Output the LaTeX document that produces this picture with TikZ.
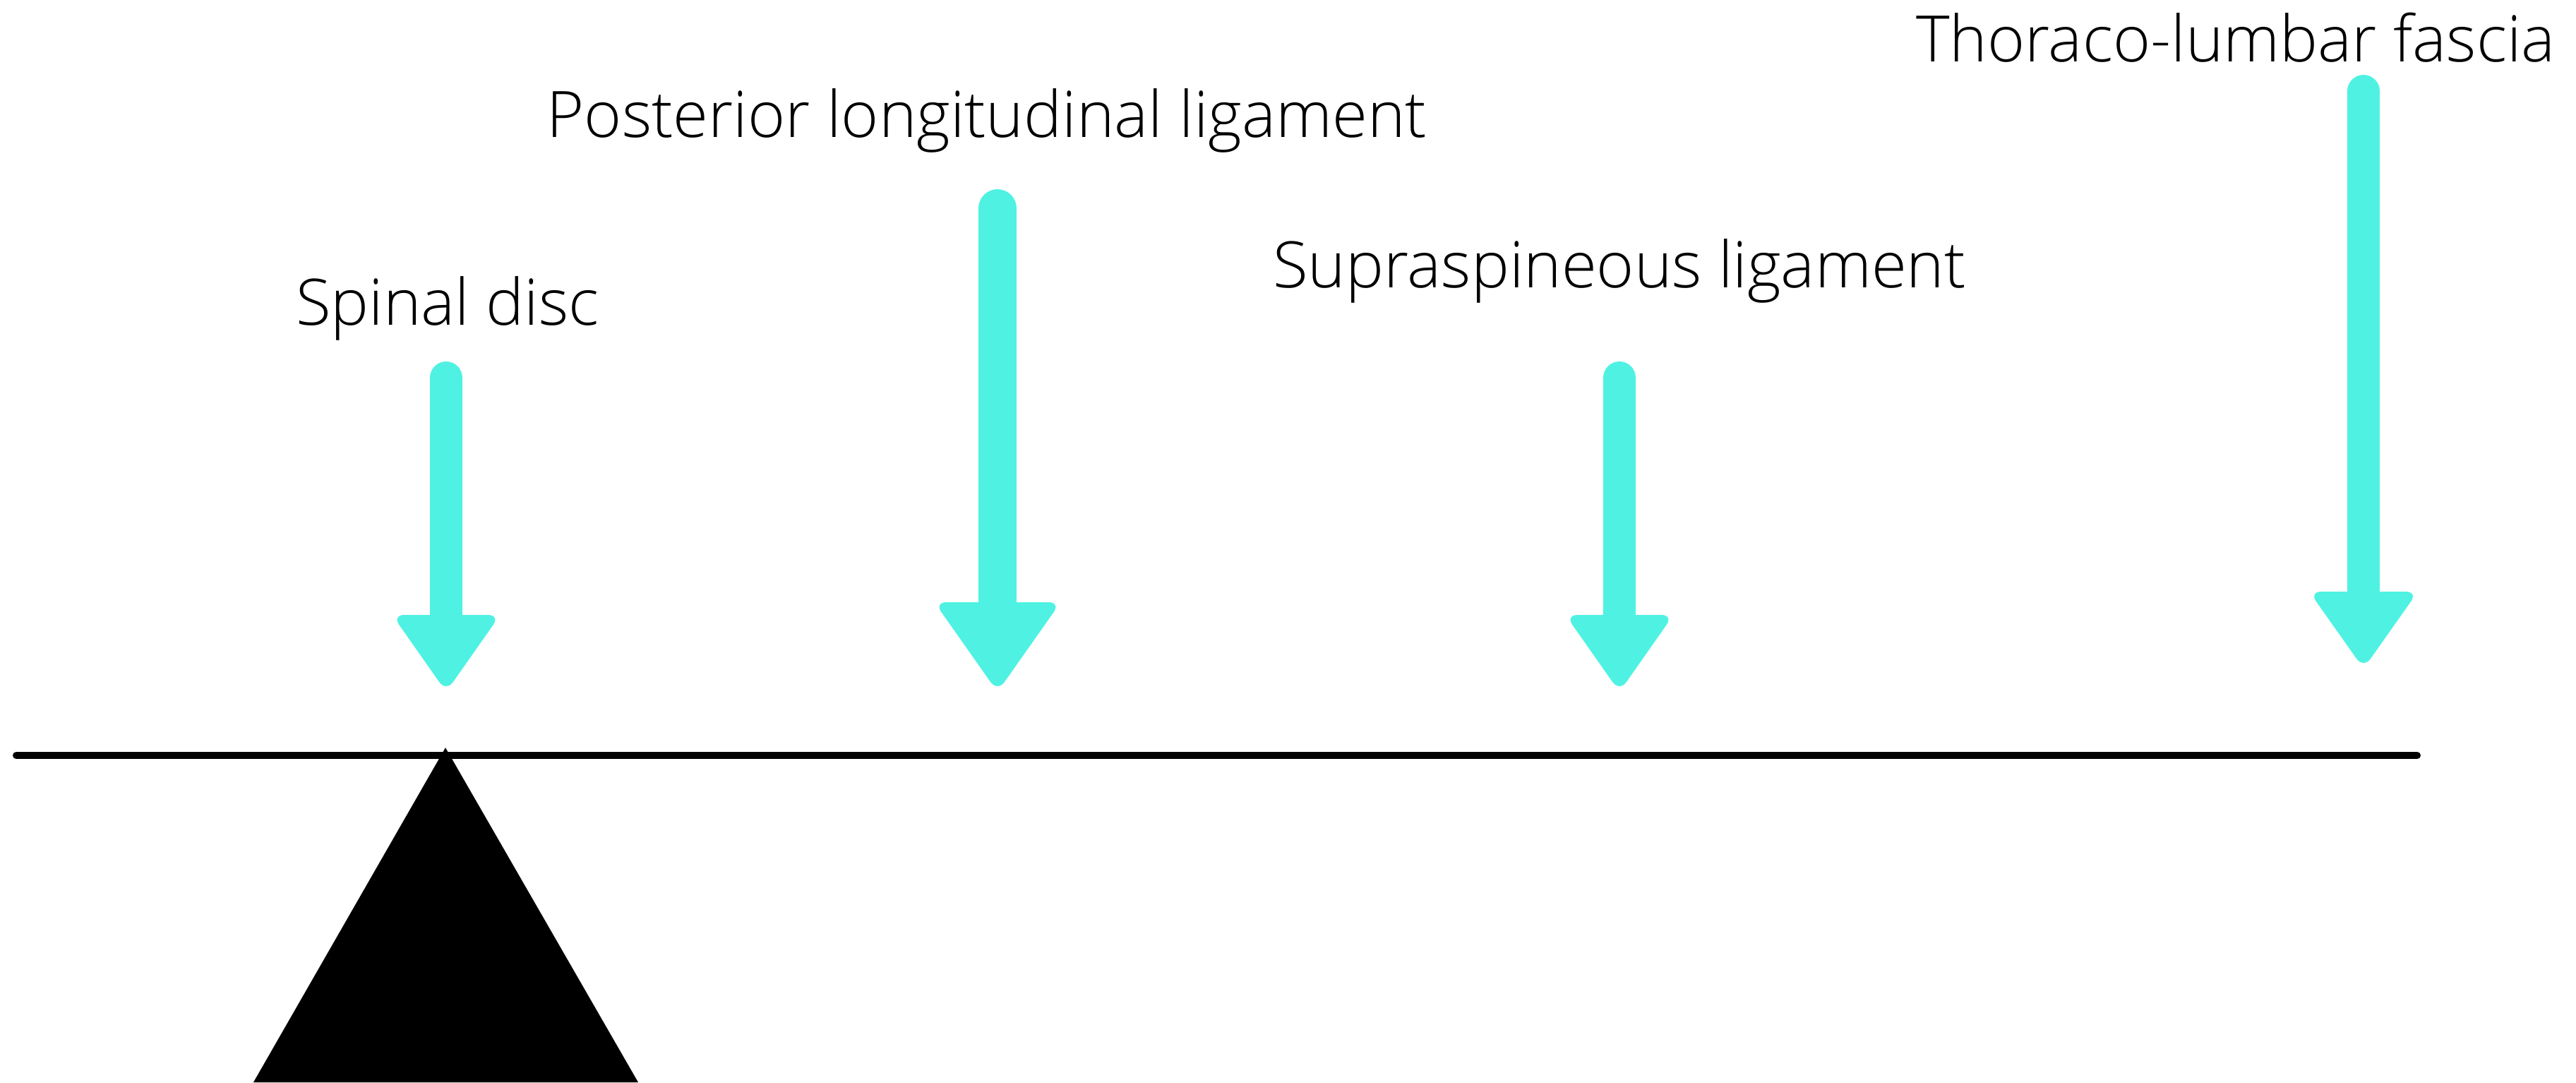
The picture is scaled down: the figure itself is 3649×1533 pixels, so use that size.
\documentclass[tikz,border=0pt]{standalone}
\usepackage{fontspec}
\setmainfont{Open Sans}[UprightFont = * Light]
\definecolor{forcecyan}{RGB}{79,242,226}
% one picture unit is one image pixel; y runs downward
\tikzset{
  labeltext/.style={anchor=base, inner sep=0pt, font=\fontsize{18.15pt}{22pt}\selectfont},
  beam/.style={line width=2pt, line cap=round},
}
% force arrow: centre x, top y, shaft half width, head base y, head half width, tip y
\newcommand\forcearrow[6]{%
  \draw[forcecyan, line width=#3*0.4pt, line cap=round] (#1,#2+#3) -- (#1,#4+2);
  \fill[forcecyan, rounded corners=3.4pt] (#1-#5-10,#4) -- (#1+#5+10,#4) -- (#1,#6+12) -- cycle;
}
\begin{document}
\begin{tikzpicture}[x=0.2pt, y=-0.2pt]
  \useasboundingbox (0,0) rectangle (3649,1533);

  % lever beam and fulcrum
  \coordinate (beamL) at (23,1070);
  \coordinate (beamR) at (3424,1070);
  \draw[beam] (beamL) -- (beamR);
  \fill (631,1059) -- (904,1533) -- (359,1533) -- cycle;

  % downward loads
  \forcearrow{632}{512}{23}{871}{66.5}{968}
  \forcearrow{1413}{268}{27}{853}{79.5}{968}
  \forcearrow{2294}{512}{23}{871}{66.5}{968}
  \forcearrow{3348}{106}{23}{838}{67}{935}

  % labels
  \node[labeltext] (disc) at (634,460) {Spinal disc};
  \node[labeltext] (pll)  at (1398,194) {Posterior longitudinal ligament};
  \node[labeltext] (ssl)  at (2294,407) {Supraspineous ligament};
  \node[labeltext] (tlf)  at (3167,87) {Thoraco-lumbar fascia};
\end{tikzpicture}
\end{document}
